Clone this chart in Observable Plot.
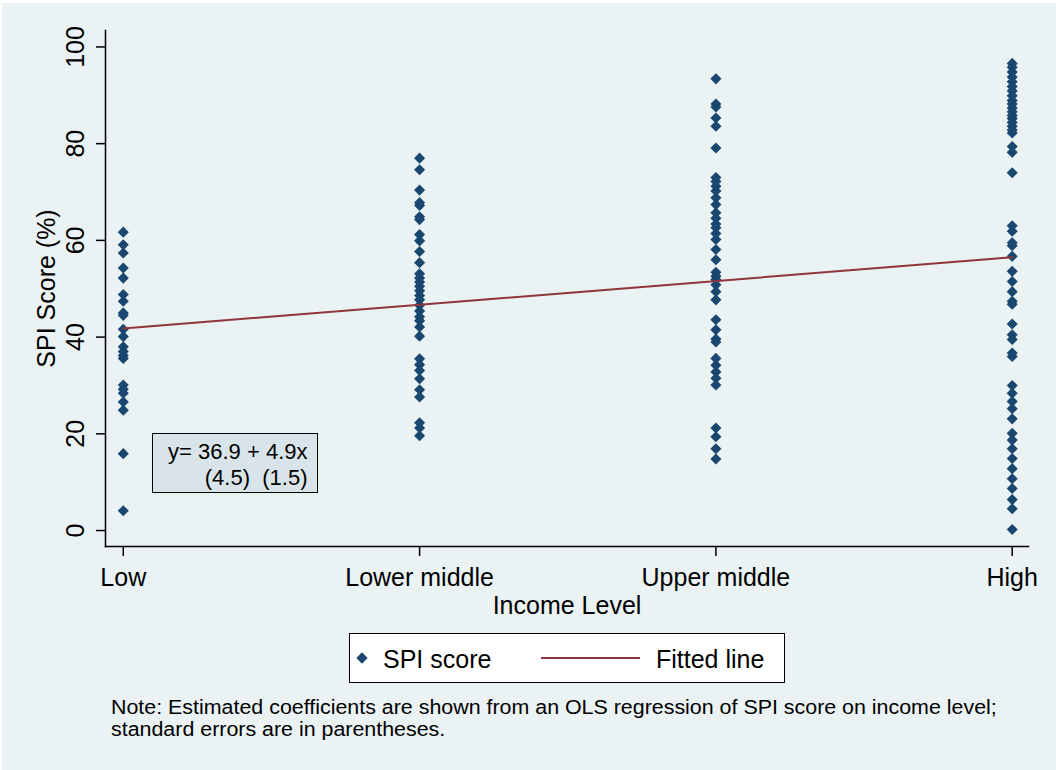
<!DOCTYPE html>
<html>
<head>
<meta charset="utf-8">
<script src="https://cdn.jsdelivr.net/npm/d3@7"></script>
<script src="https://cdn.jsdelivr.net/npm/@observablehq/plot@0.6"></script>
<style>
  body { margin: 0; background: #fff; }
  #wrap { position: relative; width: 1056px; height: 770px; background: #EAF2F3; box-shadow: inset 2px 3px 0 #fff; font-family: "Liberation Sans", Arial, sans-serif; overflow: hidden; color: #000; }
  #chart { position: absolute; left: 0; top: 0; }
  #legend { position: absolute; left: 349px; top: 633px; width: 436px; height: 50px; box-sizing: border-box; border: 1.5px solid #000; background: #fff; }
  #legend .sym { position: absolute; left: 8px; top: 20px; width: 8px; height: 8px; background: #1A476F; transform: rotate(45deg); }
  #legend .txt { position: absolute; font-size: 25px; line-height: 25px; white-space: nowrap; top: 12.5px; }
  #legend .ln { position: absolute; left: 191px; top: 23px; width: 99px; height: 2px; background: #90353B; }
  #annot { position: absolute; left: 152px; top: 433px; width: 166px; height: 60px; box-sizing: border-box; border: 1.5px solid #000; background: #D8E4EA; font-size: 22px; line-height: 26px; text-align: right; padding: 5px 9.5px 0 0; white-space: pre; }
  #note { position: absolute; left: 111px; top: 696px; font-size: 20px; line-height: 22px; white-space: pre; transform: scaleX(1.07); transform-origin: 0 0; }
</style>
</head>
<body>
<div id="wrap">
  <div id="chart"></div>
  <div id="annot"></div>
  <div id="legend"></div>
  <div id="note"></div>
</div>
<script>
// ---- data ----
const incomeLabels = ["Low", "Lower middle", "Upper middle", "High"];
const incomeLevels = [1, 2, 3, 4];
const yTicks = [0, 20, 40, 60, 80, 100];

const lowScores = [61.7, 59.1, 57.4, 54.3, 52.2, 48.8, 47.4, 45.0, 44.5, 41.6, 40.1, 38.0, 37.0, 36.2, 35.6, 30.1, 29.2, 28.4, 26.6, 24.9, 15.9, 4.1];
const lowerMiddleScores = [77.0, 74.6, 70.4, 67.8, 67.2, 64.9, 64.3, 61.2, 59.9, 57.7, 55.4, 53.1, 52.2, 51.4, 50.5, 49.6, 48.6, 47.7, 46.6, 45.4, 44.2, 43.4, 42.1, 40.2, 35.5, 34.3, 33.1, 31.4, 29.1, 27.6, 22.3, 21.2, 19.6];
const upperMiddleScores = [93.4, 88.2, 87.6, 85.3, 83.6, 79.1, 73.0, 72.2, 71.2, 70.2, 68.8, 67.4, 65.7, 64.6, 63.4, 62.6, 61.4, 60.2, 58.1, 56.0, 53.4, 52.6, 51.9, 50.8, 49.4, 47.7, 43.6, 41.5, 39.6, 39.0, 35.6, 34.2, 32.8, 31.5, 30.1, 21.2, 19.4, 16.9, 14.8];
const highScores = [96.6, 95.8, 94.8, 93.8, 92.8, 91.8, 90.9, 89.9, 88.9, 88.2, 87.4, 86.6, 85.8, 85.2, 84.4, 83.6, 82.8, 82.2, 79.4, 78.2, 74.0, 63.0, 61.9, 59.5, 58.9, 56.7, 53.6, 51.5, 49.4, 47.4, 46.8, 42.7, 40.5, 39.5, 36.7, 36.0, 30.0, 28.4, 26.7, 25.2, 23.1, 20.1, 18.7, 16.9, 14.9, 12.8, 10.7, 8.7, 6.4, 4.5, 0.2];

const fitIntercept = 36.9;
const fitSlope = 4.9;
const fitSE = [4.5, 1.5];

const legendLabels = ["SPI score", "Fitted line"];
const xTitle = "Income Level";
const yTitle = "SPI Score (%)";
const noteLines = ["Note: Estimated coefficients are shown from an OLS regression of SPI score on income level;", "standard errors are in parentheses."];

// ---- build ----
const groups = [lowScores, lowerMiddleScores, upperMiddleScores, highScores];
const points = [];
groups.forEach((arr, i) => arr.forEach(v => points.push({level: incomeLevels[i], score: v})));
const xEnds = [incomeLevels[0], incomeLevels[incomeLevels.length - 1]];
const fitted = xEnds.map(x => ({level: x, score: fitIntercept + fitSlope * x}));

const font = "'Liberation Sans', Arial, sans-serif";
const chart = Plot.plot({
  width: 1056,
  height: 625,
  marginLeft: 105,
  marginRight: 28,
  marginTop: 30,
  marginBottom: 79,
  style: {background: "transparent", fontFamily: font, fontSize: "25px", color: "#000", overflow: "visible"},
  x: {domain: [0.94, 4.055]},
  y: {domain: [-3.3, 103.4]},
  marks: [
    Plot.frame({anchor: "left", stroke: "#000", strokeWidth: 1.5}),
    Plot.frame({anchor: "bottom", stroke: "#000", strokeWidth: 1.5}),
    Plot.axisX({
      ticks: incomeLevels,
      tickFormat: d => incomeLabels[incomeLevels.indexOf(d)],
      tickSize: 10, tickPadding: 12, strokeWidth: 1.5,
      fontSize: 25,
      label: xTitle, labelAnchor: "center", labelArrow: "none", labelOffset: 67
    }),
    Plot.axisY({
      ticks: yTicks,
      tickRotate: -90,
      tickSize: 9, tickPadding: 13, strokeWidth: 1.5,
      fontSize: 25,
      label: yTitle, labelAnchor: "center", labelArrow: "none", labelOffset: 68
    }),
    Plot.dot(points, {x: "level", y: "score", symbol: "diamond2", r: 5, fill: "#1A476F", stroke: "none"}),
    Plot.line(fitted, {x: "level", y: "score", stroke: "#90353B", strokeWidth: 2})
  ]
});
document.getElementById("chart").appendChild(chart);

// annotation box
document.getElementById("annot").textContent =
  `y= ${fitIntercept} + ${fitSlope}x\n(${fitSE[0]})  (${fitSE[1]})`;

// legend
const legend = document.getElementById("legend");
legend.innerHTML = "";
const sym = document.createElement("div"); sym.className = "sym"; legend.appendChild(sym);
const t1 = document.createElement("div"); t1.className = "txt"; t1.style.left = "33px"; t1.textContent = legendLabels[0]; legend.appendChild(t1);
const ln = document.createElement("div"); ln.className = "ln"; legend.appendChild(ln);
const t2 = document.createElement("div"); t2.className = "txt"; t2.style.left = "306px"; t2.textContent = legendLabels[1]; legend.appendChild(t2);

// note
document.getElementById("note").textContent = noteLines.join("\n");
</script>
</body>
</html>
